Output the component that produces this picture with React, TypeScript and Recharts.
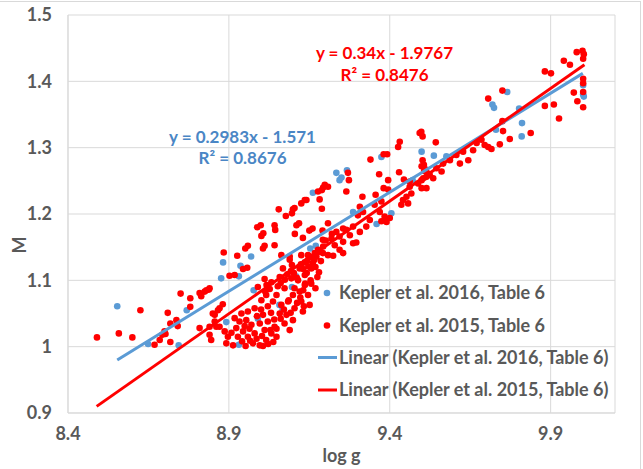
import { ScatterChart, Scatter, XAxis, YAxis, CartesianGrid } from "recharts";

// log g vs M, two Kepler tables with their linear fits
const xTicks = [8.4, 8.9, 9.4, 9.9];
const yTicks = [0.9, 1, 1.1, 1.2, 1.3, 1.4, 1.5];

const kepler2016: [number, number][] = [
  [8.553, 1.061], [8.649, 1.004], [8.744, 1.002], [8.769, 1.055], [8.882, 1.127], [8.876, 1.103],
  [8.892, 1.037], [8.931, 1.003], [8.931, 1.106], [8.936, 1.122], [8.969, 1.136], [8.977, 1.085],
  [8.99, 1.042], [9.057, 1.063], [9.067, 1.056], [9.096, 1.09], [9.109, 1.106], [9.153, 1.148],
  [9.17, 1.152], [9.161, 1.232], [9.234, 1.262], [9.244, 1.251], [9.25, 1.255], [9.267, 1.266],
  [9.286, 1.203], [9.359, 1.185], [9.374, 1.286], [9.405, 1.201], [9.499, 1.294], [9.537, 1.288],
  [9.576, 1.287], [9.471, 1.251], [9.719, 1.365], [9.724, 1.36], [9.765, 1.384], [9.802, 1.359],
  [9.811, 1.337], [9.81, 1.317], [9.73, 1.327], [10.001, 1.394], [10.001, 1.38], [10.003, 1.377],
];

const kepler2015: [number, number][] = [
  [8.49, 1.014], [8.558, 1.02], [8.6, 1.014], [8.625, 1.055], [8.71, 1.051], [8.718, 1.035],
  [8.737, 1.04], [8.741, 1.031], [8.7, 1.023], [8.693, 1.018], [8.685, 1.01], [8.669, 1.003],
  [8.703, 1.019], [8.718, 1.007], [8.75, 1.08], [8.78, 1.073], [8.78, 1.06], [8.809, 1.081],
  [8.814, 1.076], [8.825, 1.083], [8.838, 1.086], [8.809, 1.028], [8.84, 1.018], [8.845, 1.01],
  [8.85, 1.05], [8.856, 1.038], [8.866, 1.055], [8.861, 1.03],
  [8.902, 1.107], [8.918, 1.108], [8.944, 1.117], [8.957, 1.119], [9.011, 1.102], [8.99, 1.09],
  [9.013, 1.083], [9.032, 1.097], [9.058, 1.105], [9.068, 1.118], [9.089, 1.131], [9.096, 1.123],
  [9.12, 1.118], [9.136, 1.127], [9.073, 1.088], [9.094, 1.103], [9.115, 1.1], [9.136, 1.108],
  [9.156, 1.118], [8.84, 1.088], [8.83, 1.085], [8.871, 1.058], [8.881, 1.064], [8.856, 1.048],
  [8.84, 1.03], [8.871, 1.03], [8.887, 1.023], [8.897, 1.015], [8.892, 1.005], [8.913, 1.002],
  [8.928, 1.015], [8.944, 1.023], [8.923, 1.028], [8.933, 1.038], [8.918, 1.043], [8.939, 1.05],
  [8.959, 1.053], [8.98, 1.058], [8.954, 1.04], [8.97, 1.033], [8.959, 1.015], [8.98, 1.02],
  [8.975, 1.005], [8.996, 1.002], [9.016, 1.01], [9.011, 1.025], [8.996, 1.035], [9.006, 1.048],
  [9.021, 1.038], [9.032, 1.02], [9.048, 1.015], [9.042, 1.03], [9.001, 1.07], [9.016, 1.078],
  [9.037, 1.068], [9.048, 1.078], [9.063, 1.063], [9.058, 1.05], [9.079, 1.048], [9.084, 1.068],
  [9.099, 1.078], [9.104, 1.088], [9.12, 1.083], [9.125, 1.068], [9.136, 1.093], [9.146, 1.078],
  [9.13, 1.053], [9.099, 1.04], [9.073, 1.035], [9.089, 1.025], [9.104, 1.058], [9.156, 1.095],
  [9.151, 1.063], [9.029, 1.025], [9.048, 1.027],
  [8.952, 1.001], [8.966, 1.009], [8.986, 1.012], [9.003, 1.016], [9.006, 1.001], [9.022, 1.004],
  [8.941, 1.008], [8.987, 1.046], [9.0, 1.056], [9.021, 1.061], [9.031, 1.051], [9.041, 1.041],
  [9.061, 1.042], [9.071, 1.056], [9.092, 1.051], [9.112, 1.066], [9.122, 1.074], [9.133, 1.061],
  [9.052, 1.091], [9.061, 1.096], [9.074, 1.101], [9.082, 1.109], [9.093, 1.114], [9.102, 1.111],
  [9.111, 1.104], [9.124, 1.124], [9.131, 1.117], [9.142, 1.111], [9.147, 1.121], [9.161, 1.126],
  [9.166, 1.131], [9.172, 1.136], [9.186, 1.129], [9.192, 1.141], [9.017, 1.093], [9.027, 1.087],
  [8.964, 1.027], [8.949, 1.031], [9.038, 1.007], [8.908, 1.021],
  [8.884, 1.142], [8.926, 1.137], [8.951, 1.148], [8.959, 1.152], [8.988, 1.18], [8.999, 1.183],
  [9.001, 1.167], [9.007, 1.171], [9.006, 1.148], [9.011, 1.152], [9.042, 1.183], [9.044, 1.176],
  [9.042, 1.153], [9.055, 1.207], [9.077, 1.197], [9.096, 1.201], [9.099, 1.207], [9.104, 1.209],
  [9.11, 1.183], [9.118, 1.186], [9.13, 1.164], [9.125, 1.216], [9.136, 1.221], [9.141, 1.221],
  [9.182, 1.222], [9.189, 1.236], [9.177, 1.234], [9.189, 1.208], [9.16, 1.178], [9.063, 1.138],
  [9.089, 1.136], [9.125, 1.138], [9.146, 1.138], [9.167, 1.141], [9.177, 1.146], [9.192, 1.161],
  [9.144, 1.13], [9.156, 1.135], [9.169, 1.12], [9.154, 1.1], [9.137, 1.095], [9.131, 1.085],
  [9.086, 1.07], [9.175, 1.105], [9.18, 1.112], [9.169, 1.088], [9.105, 1.17], [9.15, 1.175],
  [9.191, 1.175], [9.201, 1.16], [9.22, 1.17],
  [9.34, 1.282], [9.381, 1.29], [9.392, 1.29], [9.367, 1.26], [9.429, 1.263], [9.395, 1.251],
  [9.27, 1.262], [9.273, 1.251], [9.198, 1.244], [9.208, 1.241], [9.193, 1.24], [9.265, 1.234],
  [9.315, 1.226], [9.395, 1.237], [9.374, 1.219], [9.356, 1.229], [9.506, 1.274], [9.512, 1.267],
  [9.519, 1.261], [9.535, 1.254], [9.504, 1.254], [9.499, 1.239], [9.514, 1.239], [9.488, 1.246],
  [9.462, 1.241], [9.467, 1.231], [9.452, 1.226], [9.441, 1.221], [9.457, 1.216], [9.436, 1.214],
  [9.462, 1.249], [9.307, 1.211], [9.317, 1.203], [9.301, 1.198], [9.353, 1.214], [9.369, 1.203],
  [9.384, 1.196], [9.374, 1.189], [9.39, 1.188], [9.4, 1.194], [9.338, 1.191], [9.286, 1.181],
  [9.327, 1.181], [9.307, 1.173], [9.265, 1.176], [9.276, 1.168], [9.244, 1.166], [9.255, 1.178],
  [9.234, 1.173], [9.208, 1.186], [9.219, 1.163], [9.229, 1.153], [9.255, 1.158], [9.286, 1.156],
  [9.296, 1.157], [9.244, 1.146], [9.193, 1.151], [9.182, 1.143], [9.208, 1.138], [9.224, 1.137],
  [9.255, 1.141],
  [9.498, 1.324], [9.493, 1.322], [9.502, 1.317], [9.431, 1.309], [9.426, 1.301], [9.543, 1.308],
  [9.706, 1.374], [9.618, 1.276], [9.644, 1.281], [9.659, 1.296], [9.685, 1.312], [9.695, 1.304],
  [9.706, 1.301], [9.67, 1.307], [9.628, 1.294], [9.607, 1.289], [9.587, 1.281], [9.566, 1.276],
  [9.545, 1.269], [9.561, 1.264], [9.524, 1.259], [9.502, 1.281], [9.499, 1.272], [9.507, 1.265],
  [9.514, 1.256], [9.499, 1.251], [9.444, 1.252], [9.381, 1.239],
  [9.981, 1.444], [9.999, 1.446], [10.003, 1.441], [10.001, 1.434], [9.941, 1.431], [9.96, 1.425],
  [9.882, 1.415], [9.901, 1.412], [9.75, 1.386], [10.001, 1.404], [10.001, 1.397], [10.001, 1.384],
  [10.001, 1.361], [9.972, 1.383], [9.983, 1.37], [9.882, 1.363], [9.91, 1.365], [9.926, 1.344],
  [9.838, 1.322], [9.773, 1.313], [9.752, 1.325], [9.742, 1.305], [9.716, 1.298], [9.75, 1.34],
];

// trendline end points (y = 0.2983x - 1.571 and y = 0.34x - 1.9767)
const fit2016: [number, number][] = [[8.553, 0.98], [10.0, 1.412]];
const fit2015: [number, number][] = [[8.489, 0.91], [10.005, 1.425]];

const BLUE = "#5B9BD5";
const RED = "#FF0000";
const GREY = "#595959";
const FONT = "Lato, 'Noto Sans', sans-serif";

const toPoints = (rows: [number, number][]) => rows.map(([x, y]) => ({ x, y }));

const dot = (color: string) => (props: any) => (
  <circle cx={props.cx} cy={props.cy} r={3.3} fill={color} />
);

const noShape = () => <g />;

export default function App() {
  const tickStyle = { fill: GREY, fontSize: 18, fontWeight: 700, fontFamily: FONT };
  const legendText = { fill: GREY, fontSize: 18, fontWeight: 700, fontFamily: FONT };

  return (
    <div style={{ position: "absolute", left: 0, top: 0, width: 643, height: 469, background: "#fff" }}>
      <ScatterChart width={643} height={469} margin={{ top: 15, right: 28, bottom: 6, left: 8 }}>
        <CartesianGrid stroke="#D9D9D9" strokeWidth={1} />
        <XAxis
          type="number"
          dataKey="x"
          domain={[8.4, 10.1]}
          ticks={xTicks}
          height={50}
          tickSize={0}
          tickMargin={14}
          tickLine={false}
          axisLine={{ stroke: "#D9D9D9" }}
          tick={tickStyle}
          allowDataOverflow
        />
        <YAxis
          type="number"
          dataKey="y"
          domain={[0.9, 1.5]}
          ticks={yTicks}
          width={60}
          tickSize={0}
          tickMargin={16}
          tickLine={false}
          axisLine={{ stroke: "#D9D9D9" }}
          tick={tickStyle}
          allowDataOverflow
        />
        <Scatter name="Kepler et al. 2016, Table 6" data={toPoints(kepler2016)} shape={dot(BLUE)} isAnimationActive={false} />
        <Scatter name="Kepler et al. 2015, Table 6" data={toPoints(kepler2015)} shape={dot(RED)} isAnimationActive={false} />
        <Scatter
          name="Linear (Kepler et al. 2016, Table 6)"
          data={toPoints(fit2016)}
          shape={noShape}
          line={{ stroke: BLUE, strokeWidth: 3 }}
          isAnimationActive={false}
        />
        <Scatter
          name="Linear (Kepler et al. 2015, Table 6)"
          data={toPoints(fit2015)}
          shape={noShape}
          line={{ stroke: RED, strokeWidth: 3 }}
          isAnimationActive={false}
        />
      </ScatterChart>

      <svg width={643} height={469} style={{ position: "absolute", left: 0, top: 0, pointerEvents: "none" }}>
        <line x1={0} y1={1.5} x2={641} y2={1.5} stroke="#D9D9D9" />
        <line x1={640.5} y1={1.5} x2={640.5} y2={469} stroke="#D9D9D9" />

        {/* trendline equations */}
        <g fontFamily={FONT} fontWeight={700} fontSize={17} textAnchor="middle">
          <text x={384.5} y={58.5} fill={RED}>y = 0.34x - 1.9767</text>
          <text x={384.5} y={81} fill={RED}>R² = 0.8476</text>
          <text x={242.5} y={142.5} fill="#4A86C5">y = 0.2983x - 1.571</text>
          <text x={242.5} y={164} fill="#4A86C5">R² = 0.8676</text>
        </g>

        {/* axis titles */}
        <text x={341.5} y={462} textAnchor="middle" {...legendText}>log g</text>
        <text transform="translate(25.5,245) rotate(-90)" textAnchor="middle" {...legendText}>M</text>

        {/* legend */}
        <circle cx={327} cy={293} r={3.3} fill={BLUE} />
        <text x={339} y={299} {...legendText}>Kepler et al. 2016, Table 6</text>
        <circle cx={327} cy={325.5} r={3.3} fill={RED} />
        <text x={339} y={331.5} {...legendText}>Kepler et al. 2015, Table 6</text>
        <line x1={318} y1={357.5} x2={337} y2={357.5} stroke={BLUE} strokeWidth={3} />
        <text x={339} y={363.5} {...legendText}>Linear (Kepler et al. 2016, Table 6)</text>
        <line x1={318} y1={390} x2={337} y2={390} stroke={RED} strokeWidth={3} />
        <text x={339} y={396} {...legendText}>Linear (Kepler et al. 2015, Table 6)</text>
      </svg>
    </div>
  );
}
